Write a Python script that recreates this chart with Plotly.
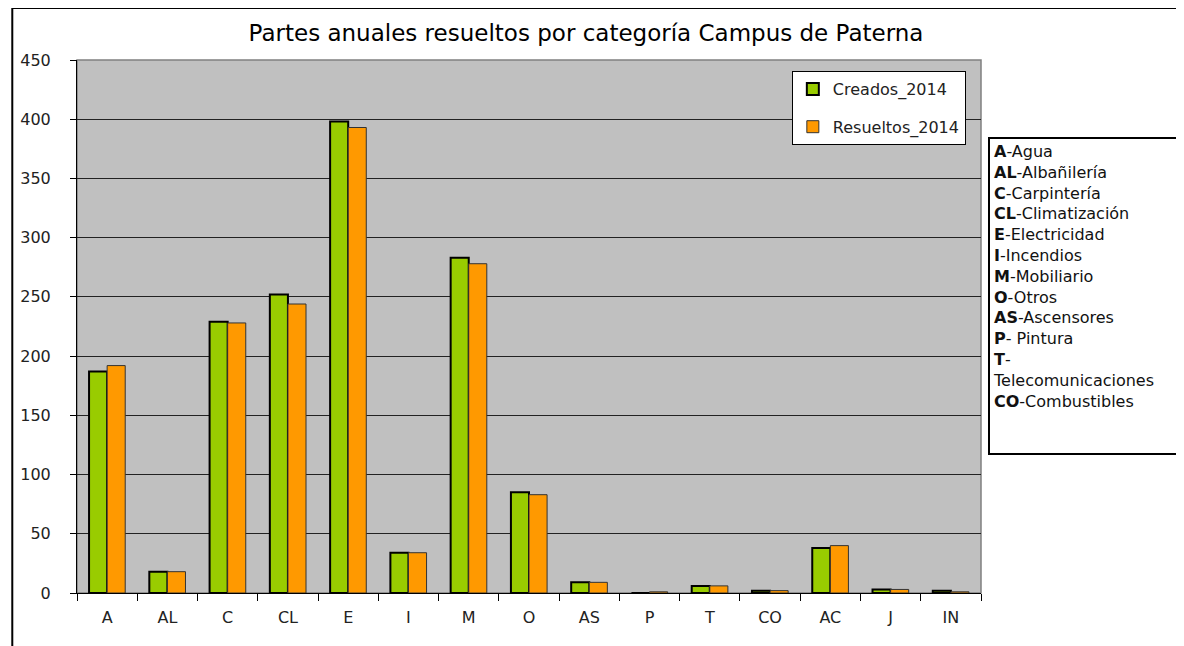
import plotly.graph_objects as go

categories = ["A", "AL", "C", "CL", "E", "I", "M", "O", "AS", "P", "T", "CO", "AC", "J", "IN"]
creados_2014 = [187, 18, 229, 252, 398, 34, 283, 85, 9, 0, 6, 2, 38, 3, 2]
resueltos_2014 = [192, 18, 228, 244, 393, 34, 278, 83, 9, 1, 6, 2, 40, 3, 1]
y_ticks = [0, 50, 100, 150, 200, 250, 300, 350, 400, 450]
code_legend = [("A", "Agua"), ("AL", "Albañilería"), ("C", "Carpintería"), ("CL", "Climatización"),
               ("E", "Electricidad"), ("I", "Incendios"), ("M", "Mobiliario"), ("O", "Otros"),
               ("AS", "Ascensores"), ("P", " Pintura"), ("T", "<br>Telecomunicaciones"),
               ("CO", "Combustibles")]

FONT = "DejaVu Sans"
OFF = 8  # page body margin
W, H = 1176, 638
L, T = 73 - OFF, 60 - OFF
R = W - (981 - OFF)
B = H - (593 - OFF)
pw, ph = W - L - R, H - T - B

def px_x(x):
    return (x - OFF - L) / pw

def px_y(y):
    return (H - B - (y - OFF)) / ph

fig = go.Figure()
fig.add_trace(go.Bar(x=categories, y=creados_2014, name="Creados_2014", legendgroup="c",
                     marker=dict(color="#99CC00", line=dict(color="#000000", width=2))))
fig.add_trace(go.Bar(x=categories, y=resueltos_2014, name="Resueltos_2014", legendgroup="r",
                     marker=dict(color="#FF9900", line=dict(color="#333333", width=1))))

legend_text = "<br>".join(f"<b>{c}</b>-{d}" for c, d in code_legend)

fig.add_annotation(xref="paper", yref="paper", x=px_x(988), y=px_y(137),
                   xanchor="left", yanchor="top", text=legend_text, showarrow=False,
                   align="left", valign="top", bordercolor="#000000", borderwidth=2, borderpad=3,
                   bgcolor="white", width=180, height=308,
                   font=dict(family=FONT, size=16, color="#111111"))

fig.add_shape(type="rect", xref="paper", yref="paper",
              x0=px_x(OFF), x1=px_x(W + 30), y0=px_y(OFF), y1=px_y(H + 40),
              line=dict(color="#000000", width=2), layer="below")
fig.add_shape(type="rect", xref="paper", yref="paper", x0=0, x1=1, y0=0, y1=1,
              line=dict(color="#808080", width=1.5), layer="below")

fig.update_layout(
    width=W, height=H,
    margin=dict(l=L, r=R, t=T, b=B),
    paper_bgcolor="white", plot_bgcolor="#C0C0C0",
    barmode="group", bargap=0.4, bargroupgap=0,
    title=dict(text="Partes anuales resueltos por categoría Campus de Paterna",
               x=(586 - OFF) / W, xanchor="center", y=1 - (33 - OFF) / H, yanchor="middle",
               font=dict(family=FONT, size=23, color="#000000")),
    font=dict(family=FONT, size=16, color="#222222"),
    legend=dict(x=px_x(791), y=px_y(71), xanchor="left", yanchor="top",
                bgcolor="white", bordercolor="#000000", borderwidth=1,
                font=dict(family=FONT, size=16, color="#222222"),
                tracegroupgap=14),
    showlegend=True,
)
fig.update_xaxes(type="category", showgrid=False, tickson="boundaries",
                 ticks="outside", ticklen=7, tickcolor="#000000",
                 showline=True, linecolor="#000000", linewidth=1,
                 ticklabelstandoff=10,
                 tickfont=dict(family=FONT, size=16, color="#222222"))
fig.update_yaxes(range=[0, 450], tickvals=y_ticks, showgrid=True,
                 gridcolor="#222222", gridwidth=1, zeroline=False,
                 ticks="outside", ticklen=6, tickcolor="#000000",
                 showline=True, linecolor="#000000", linewidth=1,
                 ticklabelstandoff=16,
                 tickfont=dict(family=FONT, size=16, color="#222222"))

fig.write_html("out.html")
